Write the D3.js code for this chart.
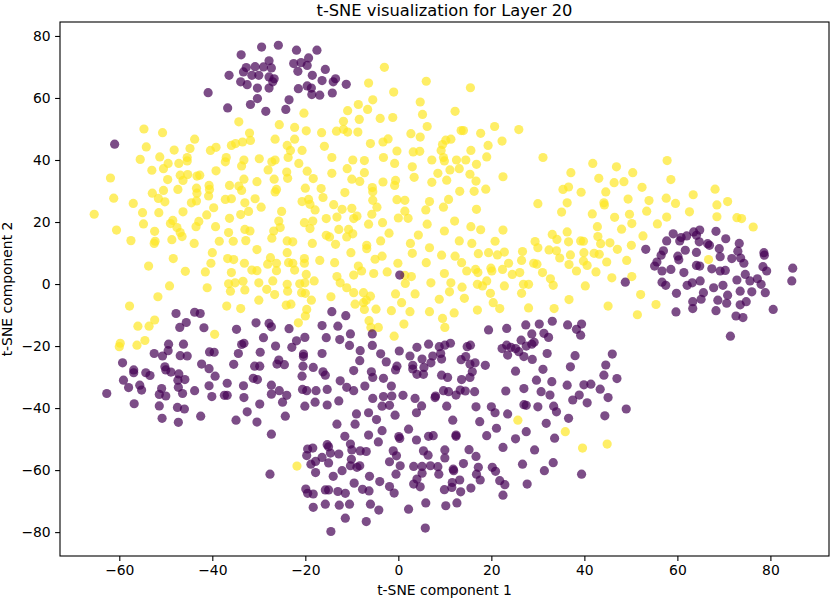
<!DOCTYPE html>
<html>
<head>
<meta charset="utf-8">
<script src="https://cdn.jsdelivr.net/npm/d3@7"></script>
<style>
  body { margin: 0; background: #fff; }
  svg { display: block; font-family: "DejaVu Sans", sans-serif; }
</style>
</head>
<body>
<svg id="chart" width="830" height="600"></svg>
<script>
// label 0 (viridis dark purple) as [x, y]
const label0Points = [
  // top cluster
  [-29.4,76.4],[-25.8,77.0],[-21.9,75.4],[-33.8,73.9],[-32.7,69.8],[-30.8,70.1],[-29.0,70.0],[-27.8,72.0],
  [-27.3,69.7],[-33.3,68.4],[-31.5,67.3],[-30.0,67.3],[-36.4,67.3],[-33.9,65.2],[-32.5,64.3],[-30.3,63.2],
  [-27.8,66.8],[-26.7,66.2],[-27.0,65.2],[-27.8,63.2],[-30.3,59.8],[-31.8,57.9],[-28.5,55.7],[-36.7,56.8],
  [-40.9,61.7],[-23.5,59.4],[-24.2,56.3],[-22.5,71.1],[-20.9,71.4],[-19.3,72.9],[-19.6,70.5],[-21.6,68.6],
  [-21.5,63.0],[-19.6,63.9],[-18.7,63.2],[-18.5,67.3],[-18.6,61.1],[-61.0,45.1],
  [-17.5,75.4],[-15.7,69.2],[-13.5,66.2],[-14.0,65.2],[-11.2,64.4],[-16.4,65.6],[-16.9,60.9],[-14.2,61.6],
  [0.3,2.9],
  // lower left
  [-47.8,-9.5],[-43.8,-9.1],[-42.6,-9.5],[-45.6,-12.4],[-47.0,-14.0],[-41.8,-14.1],[-34.8,-14.6],[-30.6,-12.5],
  [-27.8,-12.7],[-27.3,-13.8],[-23.5,-14.4],[-20.1,-17.2],[-21.9,-18.3],[-22.9,-20.4],[-26.4,-20.0],[-29.0,-17.3],
  [-33.2,-19.1],[-33.7,-19.5],[-29.7,-22.0],[-34.4,-22.4],[-46.2,-19.4],[-49.4,-19.4],[-49.5,-21.5],[-52.5,-22.4],
  [-50.7,-23.2],[-46.9,-23.1],[-45.4,-23.2],[-40.6,-21.9],[-39.6,-22.0],[-59.3,-25.4],[-56.9,-27.7],[-56.9,-28.6],
  [-54.3,-28.6],[-53.4,-29.5],[-50.2,-26.7],[-50.0,-27.7],[-48.9,-28.4],[-47.2,-29.0],[-47.4,-31.0],[-45.9,-30.8],
  [-47.3,-33.3],[-42.3,-25.8],[-40.7,-27.3],[-39.4,-29.7],[-35.4,-25.9],[-30.9,-26.5],[-29.8,-26.5],[-25.7,-24.5],
  [-26.1,-25.8],[-24.5,-26.0],[-20.4,-22.6],[-20.4,-23.4],[-20.5,-26.5],[-18.3,-26.9],[-20.7,-29.7],[-31.2,-30.4],
  [-30.3,-30.8],[-36.8,-32.0],[-33.3,-32.8],[-59.1,-31.0],[-58.0,-33.4],[-55.6,-32.6],[-55.2,-34.2],[-62.7,-35.3],
  [-50.9,-33.7],[-51.4,-35.6],[-50.0,-36.1],[-46.4,-35.3],[-43.8,-34.4],[-40.7,-32.8],[-40.1,-36.3],[-37.4,-35.9],
  [-36.8,-35.9],[-33.2,-36.6],[-27.3,-32.6],[-27.3,-35.5],[-25.6,-34.4],[-24.0,-35.9],[-24.9,-38.1],[-20.6,-34.0],
  [-19.7,-34.4],[-17.7,-34.4],[-17.9,-38.1],[-20.1,-39.4],[-56.8,-38.6],[-51.4,-39.3],[-47.5,-39.8],[-46.0,-40.3],
  [-50.8,-43.3],[-47.3,-44.6],[-42.5,-42.6],[-34.9,-43.9],[-32.5,-41.2],[-30.4,-44.5],[-29.8,-38.7],[-24.3,-42.6],
  [-27.3,-48.4],[-27.6,-61.3],[-19.5,-53.2],[-18.4,-52.9],[-19.7,-55.3],[-18.8,-58.1],[-17.8,-57.2],[-17.8,-60.8],
  [-19.9,-66.1],[-19.5,-67.5],[-18.3,-67.7],[-18.3,-72.0],
  // lower middle
  [-14.3,-8.9],[-11.3,-10.2],[-16.4,-13.4],[-13.0,-13.6],[-10.3,-16.1],[-15.5,-17.3],[-12.6,-17.9],[-5.6,-16.1],
  [-10.5,-19.8],[-5.6,-19.8],[-8.2,-21.5],[-16.4,-22.4],[-3.8,-22.5],[0.2,-21.6],[4.0,-20.4],[6.5,-19.4],
  [8.8,-20.2],[10.0,-19.7],[11.2,-19.1],[9.1,-22.4],[7.4,-23.2],[2.5,-23.2],[5.1,-24.2],[9.3,-24.2],
  [13.5,-24.4],[14.5,-23.4],[14.8,-20.2],[15.5,-19.7],[19.4,-14.8],[23.3,-14.3],[27.4,-13.2],[30.3,-12.9],
  [33.1,-12.0],[36.4,-13.2],[28.7,-16.1],[31.3,-15.9],[32.3,-17.2],[26.4,-18.1],[22.3,-20.8],[23.3,-19.7],
  [24.2,-20.4],[25.2,-20.8],[25.9,-21.8],[27.5,-20.0],[28.7,-19.4],[29.2,-18.8],[23.5,-22.9],[27.0,-23.4],
  [28.8,-24.3],[32.0,-22.4],[-2.6,-25.1],[-8.3,-24.7],[3.1,-26.2],[5.5,-26.9],[-0.3,-26.5],[-0.6,-27.7],
  [3.1,-27.4],[4.0,-29.1],[5.4,-29.1],[7.0,-25.4],[15.4,-25.8],[16.5,-25.4],[18.7,-26.2],[15.9,-28.3],
  [15.4,-30.1],[13.6,-30.8],[9.3,-29.4],[10.6,-30.1],[-9.6,-27.9],[-5.8,-28.3],[-3.2,-30.4],[-5.5,-30.1],
  [25.2,-28.1],[31.1,-27.5],[37.0,-26.7],[-16.2,-28.3],[-15.7,-29.4],[-12.5,-31.2],[-11.1,-33.3],[-9.6,-34.4],
  [-15.3,-34.0],[-7.2,-32.9],[-1.5,-32.9],[1.0,-35.9],[-1.4,-36.1],[-3.2,-36.3],[-5.5,-36.9],[3.6,-36.9],
  [7.9,-36.6],[8.0,-36.1],[9.7,-34.4],[10.8,-34.7],[12.4,-35.8],[13.3,-34.2],[14.4,-34.5],[16.4,-34.7],
  [23.1,-34.5],[27.0,-33.7],[30.7,-34.7],[33.0,-31.5],[29.7,-31.0],[36.3,-32.6],[32.6,-35.8],[37.5,-37.4],
  [-12.8,-37.7],[-15.3,-39.0],[-3.5,-39.4],[-1.9,-39.1],[-0.7,-42.3],[-6.4,-41.5],[-9.0,-41.9],[-4.7,-43.7],
  [3.9,-41.5],[5.0,-39.3],[10.4,-39.4],[16.7,-39.6],[20.0,-39.6],[20.8,-41.5],[23.5,-41.9],[27.0,-38.9],
  [27.5,-39.1],[30.0,-39.6],[33.4,-39.4],[34.0,-41.2],[36.6,-43.3],[11.7,-43.9],[17.5,-44.4],[31.8,-44.9],
  [-13.2,-45.2],
  // bottom
  [-9.3,-45.2],[-3.5,-47.3],[-11.5,-49.1],[-6.4,-48.7],[-4.3,-50.9],[-15.3,-51.8],[-15.0,-52.5],[-10.3,-51.6],
  [-10.0,-53.5],[-8.2,-53.8],[-6.9,-54.0],[-14.6,-54.5],[-12.8,-54.8],[-16.4,-55.9],[-15.0,-57.7],[-10.1,-56.5],
  [-10.3,-58.6],[-8.9,-59.1],[-8.3,-58.6],[-12.1,-60.2],[-14.0,-62.0],[-6.2,-62.0],[-9.5,-64.2],[-4.0,-63.7],
  [-7.7,-66.2],[-6.3,-66.7],[-11.4,-67.5],[-13.0,-66.9],[-15.0,-66.4],[-15.7,-66.4],[-15.7,-71.0],[-12.7,-71.3],
  [-10.5,-71.0],[-6.0,-71.0],[-4.2,-72.9],[-11.4,-75.5],[-6.9,-76.6],[-14.5,-79.8],[-1.9,-65.3],[-0.9,-67.4],
  [-0.5,-61.3],[-1.9,-57.3],[-1.1,-53.8],[-0.4,-55.4],[0.4,-58.6],[0.1,-49.2],[0.3,-49.8],[2.2,-46.8],
  [3.9,-50.3],[6.5,-49.1],[7.5,-48.9],[5.4,-53.8],[6.4,-55.2],[3.3,-58.8],[5.1,-58.8],[6.9,-58.6],
  [8.5,-58.9],[8.7,-61.3],[5.1,-61.0],[4.0,-62.9],[3.3,-64.5],[4.7,-65.4],[10.0,-53.5],[10.0,-56.1],
  [11.8,-59.7],[11.9,-60.2],[14.0,-57.9],[13.2,-63.2],[11.6,-64.0],[11.5,-65.6],[9.9,-66.3],[13.4,-67.0],
  [15.6,-65.8],[17.6,-63.2],[16.8,-61.3],[17.2,-59.1],[16.7,-55.6],[15.2,-53.4],[12.4,-48.7],[12.4,-49.1],
  [19.0,-48.9],[21.1,-46.5],[22.5,-52.7],[20.2,-59.1],[20.9,-60.4],[21.8,-63.4],[22.9,-64.7],[22.5,-68.1],
  [12.6,-70.6],[10.2,-71.5],[5.9,-70.6],[2.2,-72.6],[5.8,-78.7],[25.2,-49.9],[27.5,-47.6],[29.3,-53.5],
  [26.7,-58.1],[27.7,-64.5],[31.4,-60.2],[33.3,-57.6],[33.6,-49.7],
  // lower right
  [38.3,-14.6],[39.4,-12.9],[39.2,-16.5],[38.0,-23.1],[46.0,-22.6],[44.6,-26.1],[44.2,-29.4],[47.0,-30.5],
  [39.9,-32.5],[41.4,-32.3],[43.4,-33.9],[38.9,-35.8],[45.1,-36.6],[40.6,-38.3],[49.0,-40.3],[44.4,-42.5],
  [39.4,-61.3],
  // right cluster
  [59.8,-3.0],[63.3,-5.7],[63.3,-7.9],[65.1,-4.9],[65.6,-2.8],[68.7,-5.2],[70.8,-3.6],[70.6,-6.2],
  [68.3,-8.6],[59.7,-9.0],[73.5,-2.3],[76.0,-2.5],[78.9,-2.8],[74.8,-5.7],[73.5,-6.7],[72.6,-10.3],
  [74.1,-10.8],[80.6,-8.2],[71.4,-16.8],
  [59.1,16.2],[62.0,15.5],[63.5,16.8],[64.8,17.4],[64.1,15.7],[68.3,17.0],[70.4,14.6],[57.7,13.9],
  [60.5,13.9],[60.8,15.0],[64.7,13.6],[66.5,13.0],[66.9,12.5],[61.7,10.9],[64.1,10.2],[69.0,11.4],
  [73.3,13.1],[73.0,10.6],[53.2,11.2],[57.0,10.7],[56.5,9.3],[60.1,9.0],[60.3,7.8],[69.2,8.8],
  [71.7,8.2],[73.6,8.4],[74.3,6.7],[78.6,10.1],[78.7,9.3],[55.6,7.1],[55.1,5.8],[58.6,4.7],
  [56.7,4.2],[61.4,3.7],[64.1,6.0],[64.8,5.8],[67.4,4.9],[69.2,4.2],[70.3,4.4],[74.6,3.1],
  [78.4,5.6],[79.2,4.2],[84.8,5.1],[84.6,1.0],[48.8,0.6],[56.7,0.6],[57.5,-0.4],[62.1,-0.4],
  [63.2,0.4],[64.9,1.0],[67.8,-1.2],[69.8,-0.4],[72.8,1.3],[75.6,1.0],[77.2,1.7],[78.0,-0.1]
];

// label 1 (viridis yellow) as [x, y]
const label1Points = [
  // top band
  [-54.7,50.0],[-50.7,48.8],[-54.2,44.2],[-48.2,43.2],[-43.8,46.7],[-44.8,43.7],[-40.4,43.1],[-39.2,44.1],
  [-35.9,44.7],[-35.0,45.3],[-33.5,45.8],[-31.8,46.3],[-32.0,48.7],[-34.3,52.3],[-25.6,51.4],[-22.3,50.5],
  [-19.8,49.4],[-20.3,55.1],[-26.5,46.7],[-22.3,46.7],[-23.9,44.7],[-23.2,43.1],[-20.7,43.1],
  [-3.0,69.9],[-6.4,64.8],[6.0,65.4],[15.5,63.3],[-1.0,61.9],[-5.5,59.4],[-8.6,57.9],[-10.9,55.9],
  [-6.6,56.3],[4.7,58.7],[5.2,54.7],[12.2,55.7],[-11.8,52.5],[-8.4,53.1],[-3.9,53.4],[-1.2,53.7],
  [-16.5,48.8],[-13.3,49.3],[-11.8,49.9],[-10.9,49.0],[-8.7,49.0],[6.2,50.8],[2.7,48.5],[4.7,47.4],
  [13.5,49.5],[14.0,49.5],[17.7,48.6],[20.7,50.8],[25.9,49.8],[22.3,46.1],[19.3,44.7],[11.3,46.7],
  [10.2,46.4],[9.5,45.0],[9.2,43.1],[15.6,43.1],[-6.0,45.3],[-3.3,45.8],[-2.2,46.8],[-0.3,42.9],
  [3.2,42.6],[4.6,42.8],[-15.9,44.4],
  // upper left block
  [-55.5,40.2],[-51.3,41.0],[-49.5,38.9],[-47.2,38.9],[-45.4,39.7],[-45.4,40.8],[-53.0,36.7],[-50.5,37.2],
  [-46.9,35.1],[-45.3,35.3],[-43.3,34.8],[-42.7,35.1],[-39.2,36.5],[-37.2,39.4],[-37.0,40.8],[-33.7,38.1],
  [-33.2,40.0],[-29.9,40.4],[-27.2,39.4],[-26.5,40.0],[-23.7,40.8],[-21.4,38.9],[-28.0,36.8],[-24.0,36.1],
  [-23.8,34.1],[-19.6,36.4],[-18.3,34.0],[-61.9,34.2],[-49.6,33.7],[-46.3,33.4],[-40.7,31.8],[-40.6,30.5],
  [-36.3,31.8],[-34.3,31.6],[-33.2,33.8],[-30.4,33.0],[-26.7,33.8],[-26.2,30.5],[-26.5,29.7],[-20.0,30.9],
  [-33.7,30.2],[-43.4,30.9],[-43.3,29.3],[-47.4,30.5],[-50.5,30.2],[-52.9,29.3],[-61.2,27.7],[-51.6,27.6],
  [-50.2,26.5],[-57.0,26.0],[-44.5,26.2],[-43.4,26.8],[-40.8,28.4],[-37.2,27.3],[-35.9,27.5],[-33.0,26.2],
  [-30.8,27.5],[-29.5,24.8],[-20.7,26.6],[-19.3,27.3],[-19.0,25.7],[-17.9,23.9],[-25.1,23.4],[-32.2,23.4],
  [-33.9,22.4],[-39.7,24.6],[-41.2,22.3],[-46.3,23.3],[-51.5,23.0],[-55.0,23.0],[-65.4,22.5],[-36.3,21.2],
  [-25.7,20.3],[-20.2,19.8],[-18.4,20.3],[-48.5,20.5],[-49.0,19.5],[-54.8,19.4],[-42.9,20.2],[-43.5,18.5],
  [-47.6,18.2],[-39.3,18.5],[-25.4,18.2],[-26.8,17.1],[-19.0,17.9],[-60.6,17.4],[-52.4,17.0],[-46.9,16.6],
  [-46.5,15.3],[-33.0,17.6],[-31.9,17.1],[-36.5,16.6],[-27.2,14.8],[-57.5,14.0],[-52.3,13.8],[-52.5,13.1],
  [-48.7,14.3],[-43.9,13.1],[-38.5,13.8],[-35.5,13.8],[-32.8,14.0],[-23.9,13.9],[-22.7,13.6],[-18.5,13.1],
  [-30.4,11.1],[-40.0,10.1],[-23.9,10.1],[-48.4,8.2],[-36.7,8.2],[-35.4,7.9],[-27.5,8.5],[-20.2,8.2],
  [-53.7,5.8],[-40.3,6.7],[-33.1,6.7],[-28.1,6.4],[-26.2,6.7],[-23.6,6.9],[-22.7,6.7],[-20.2,6.7],
  [-45.8,4.1],[-41.5,3.9],[-35.9,3.7],[-31.5,4.5],[-30.4,4.3],[-26.2,4.3],[-22.3,4.5],[-19.8,3.1],
  [-49.2,-0.6],[-41.1,-1.2],[-36.5,0.1],[-35.1,0.4],[-33.4,0.9],[-30.0,0.4],[-27.0,1.0],[-23.9,-0.1],
  [-21.2,0.1],[-20.1,0.4],[-18.1,1.0],[-28.3,-1.7],
  // upper middle block
  [-14.3,40.8],[-9.8,40.0],[-7.3,39.8],[-3.2,40.8],[-0.8,38.9],[3.0,37.8],[7.2,40.0],[9.7,40.8],
  [9.9,39.7],[12.5,40.0],[14.5,40.0],[16.8,38.6],[19.0,41.0],[31.1,40.8],[-11.0,37.2],[-14.3,35.7],
  [-7.3,35.9],[-10.0,33.8],[-8.3,33.1],[-3.3,32.9],[-0.6,33.4],[-0.8,31.8],[3.4,34.4],[7.2,32.8],
  [8.5,35.7],[10.4,33.5],[11.1,36.8],[13.1,37.2],[15.4,35.4],[16.7,33.2],[18.8,30.6],[16.3,29.9],
  [13.2,29.9],[22.5,34.6],[37.1,35.9],[36.6,31.3],[35.4,30.5],[-16.6,30.8],[-16.2,27.9],[-11.5,29.5],
  [-5.6,31.1],[-5.5,29.8],[-5.5,27.0],[-0.3,27.2],[1.4,27.0],[6.7,26.6],[10.8,27.3],[9.7,24.8],
  [5.9,23.9],[1.4,23.5],[2.1,21.2],[0.0,21.3],[16.8,24.1],[30.0,25.9],[36.3,26.2],[35.1,23.2],
  [-13.9,25.6],[-12.1,24.1],[-10.0,24.4],[-4.6,24.8],[-5.7,22.5],[-8.9,21.9],[-9.6,21.1],[-15.5,21.1],
  [-13.2,21.6],[-6.4,19.3],[-3.4,19.8],[6.2,19.3],[12.1,20.3],[-12.8,17.6],[-10.7,17.6],[-9.8,16.2],
  [-2.0,16.4],[4.3,15.8],[9.9,17.1],[15.6,18.5],[17.7,17.5],[22.5,17.4],[-15.5,15.7],[-14.8,15.2],
  [-11.1,15.2],[-3.8,13.9],[2.6,13.1],[6.7,11.7],[13.1,13.9],[15.8,13.1],[20.8,13.8],[29.4,13.7],
  [33.1,16.0],[34.1,14.4],[36.3,16.8],[36.6,13.6],[-13.5,12.8],[-6.8,12.5],[-6.8,11.4],[-10.2,10.1],
  [3.0,9.9],[9.3,9.3],[12.2,9.0],[17.2,9.8],[19.4,10.1],[21.3,9.4],[22.8,10.3],[26.7,10.5],
  [30.0,11.7],[32.4,11.0],[34.0,10.7],[34.7,8.4],[37.0,9.4],[-16.9,7.6],[-13.7,6.9],[-8.6,5.8],
  [-5.0,8.0],[-3.5,9.0],[-0.1,6.7],[6.0,6.9],[13.6,6.9],[14.7,4.2],[16.6,4.7],[17.1,3.7],
  [19.9,5.1],[22.4,4.7],[23.7,6.7],[26.5,7.6],[29.1,6.7],[29.8,6.4],[31.0,3.7],[36.7,6.3],
  [-9.6,2.9],[-7.9,4.2],[-5.3,3.4],[-2.4,3.9],[1.4,2.8],[2.8,2.4],[9.9,3.4],[20.1,4.2],
  [24.5,3.1],[26.1,3.7],[-13.2,2.4],[-12.5,0.4],[-11.1,-1.2],[1.5,0.2],[7.0,0.4],[11.3,0.4],
  [13.7,-1.0],[17.0,-0.1],[18.1,-0.6],[19.0,1.0],[22.8,-0.6],[26.9,-0.1],[28.0,-0.1],[32.7,1.7],
  [33.3,-0.4],
  // upper right block
  [41.8,38.9],[46.9,37.8],[50.4,35.9],[57.8,39.8],[43.1,34.1],[46.4,32.7],[48.5,33.0],[39.3,29.6],
  [44.6,29.7],[52.4,31.2],[58.6,33.7],[44.2,26.2],[44.3,25.5],[49.4,27.4],[53.9,26.9],[57.6,27.7],
  [59.6,26.0],[63.4,28.8],[68.1,30.6],[68.5,25.5],[70.8,26.6],[53.4,23.5],[41.7,22.6],[46.5,21.5],
  [49.7,22.5],[50.2,19.5],[57.7,21.6],[62.6,23.3],[68.5,21.7],[72.8,21.4],[73.8,21.1],[76.3,18.4],
  [55.7,19.4],[48.0,17.7],[42.8,18.5],[42.9,15.3],[52.6,15.5],[39.2,13.9],[39.8,13.8],[43.5,13.0],
  [45.5,13.3],[50.1,12.5],[47.1,11.2],[39.9,10.1],[42.1,9.9],[43.2,9.6],[39.8,7.4],[40.6,6.0],
  [44.8,7.1],[49.1,7.6],[38.3,4.2],[42.5,3.9],[45.9,2.0],[50.2,2.4],[66.7,7.9],[40.2,-0.6],
  [52.1,-3.4],[45.1,-7.1],[51.4,-9.9],[55.4,-6.6],
  // lower edge of the yellow mass
  [-51.7,-4.1],[-57.8,-7.1],[-36.1,-2.3],[-33.0,-1.9],[-30.0,-5.2],[-26.6,-3.4],[-23.8,-2.3],[-20.8,-2.8],
  [-20.0,-3.0],[-36.9,-7.1],[-33.9,-7.9],[-24.1,-6.8],[-23.1,-6.5],[-18.7,-5.2],[-19.7,-8.2],[-20.0,-10.3],
  [-21.5,-12.5],[-56.0,-13.6],[-53.6,-13.6],[-52.4,-11.6],[-39.5,-16.2],[-54.5,-18.2],[-56.2,-19.7],[-59.8,-19.1],
  [-60.0,-20.2],
  [-14.5,-4.1],[-9.6,-2.8],[-7.5,-2.8],[-6.0,-3.9],[-6.9,-5.2],[-7.5,-6.0],[-9.3,-6.5],[-7.3,-8.2],
  [-4.8,-8.1],[-0.6,-3.2],[3.6,-3.2],[0.7,-6.0],[-1.5,-8.6],[2.5,-8.9],[6.7,-8.9],[8.8,-4.9],
  [11.0,-2.5],[14.2,-4.6],[19.8,-3.0],[20.4,-6.0],[21.8,-7.9],[17.0,-8.4],[12.0,-9.3],[9.5,-11.1],
  [10.0,-14.0],[26.5,-3.0],[28.0,-7.7],[33.5,-7.9],[36.7,-5.0],[-6.3,-11.8],[-5.9,-14.0],[-4.3,-14.0],
  [1.2,-12.9],[-0.9,-16.8],
  // strays inside the purple area
  [25.7,-43.9],[35.9,-47.6],[-21.8,-58.7],[39.6,-52.9],[44.9,-51.6]
];

const xTickValues = [-60, -40, -20, 0, 20, 40, 60, 80];
const yTickValues = [-80, -60, -40, -20, 0, 20, 40, 60, 80];

const chartTitle = "t-SNE visualization for Layer 20";
const xLabel = "t-SNE component 1";
const yLabel = "t-SNE component 2";

const colors = { 0: "#440154", 1: "#fde725" };

const width = 830;
const height = 600;
const margin = { top: 22, right: 1, bottom: 44, left: 60 };

const svg = d3.select("#chart");

const x = d3.scaleLinear()
  .domain([-72.75, 92.6])
  .range([margin.left, width - margin.right]);

const y = d3.scaleLinear()
  .domain([-87.7, 84.5])
  .range([height - margin.bottom, margin.top]);

const fmt = d3.format("d");

// points: yellow first, purple on top
const points = [
  ...label1Points.map((d) => ({ x: d[0], y: d[1], label: 1 })),
  ...label0Points.map((d) => ({ x: d[0], y: d[1], label: 0 })),
];

svg.append("g")
  .selectAll("circle")
  .data(points)
  .join("circle")
  .attr("cx", (d) => x(d.x))
  .attr("cy", (d) => y(d.y))
  .attr("r", 4.6)
  .attr("fill", (d) => colors[d.label])
  .attr("fill-opacity", 0.7);

// axes
const xAxis = svg.append("g")
  .attr("transform", `translate(0,${height - margin.bottom})`)
  .call(d3.axisBottom(x).tickValues(xTickValues).tickFormat(fmt).tickSize(4.9).tickPadding(4.4));

const yAxis = svg.append("g")
  .attr("transform", `translate(${margin.left},0)`)
  .call(d3.axisLeft(y).tickValues(yTickValues).tickFormat(fmt).tickSize(4.9).tickPadding(4.4));

[xAxis, yAxis].forEach((g) => {
  g.select(".domain").remove();
  g.selectAll(".tick line").attr("stroke", "#000").attr("stroke-width", 1.1);
  g.selectAll(".tick text")
    .attr("fill", "#000")
    .attr("font-size", 13.9)
    .attr("font-family", "DejaVu Sans, sans-serif");
});

// frame
svg.append("rect")
  .attr("x", margin.left)
  .attr("y", margin.top)
  .attr("width", width - margin.left - margin.right)
  .attr("height", height - margin.top - margin.bottom)
  .attr("fill", "none")
  .attr("stroke", "#000")
  .attr("stroke-width", 1.1);

svg.append("text")
  .attr("x", (margin.left + width - margin.right) / 2)
  .attr("y", 15.5)
  .attr("text-anchor", "middle")
  .attr("font-size", 16.3)
  .text(chartTitle);

svg.append("text")
  .attr("x", (margin.left + width - margin.right) / 2)
  .attr("y", 595)
  .attr("text-anchor", "middle")
  .attr("font-size", 13.9)
  .text(xLabel);

svg.append("text")
  .attr("transform", `translate(12,${(margin.top + height - margin.bottom) / 2}) rotate(-90)`)
  .attr("text-anchor", "middle")
  .attr("font-size", 13.9)
  .text(yLabel);
</script>
</body>
</html>
